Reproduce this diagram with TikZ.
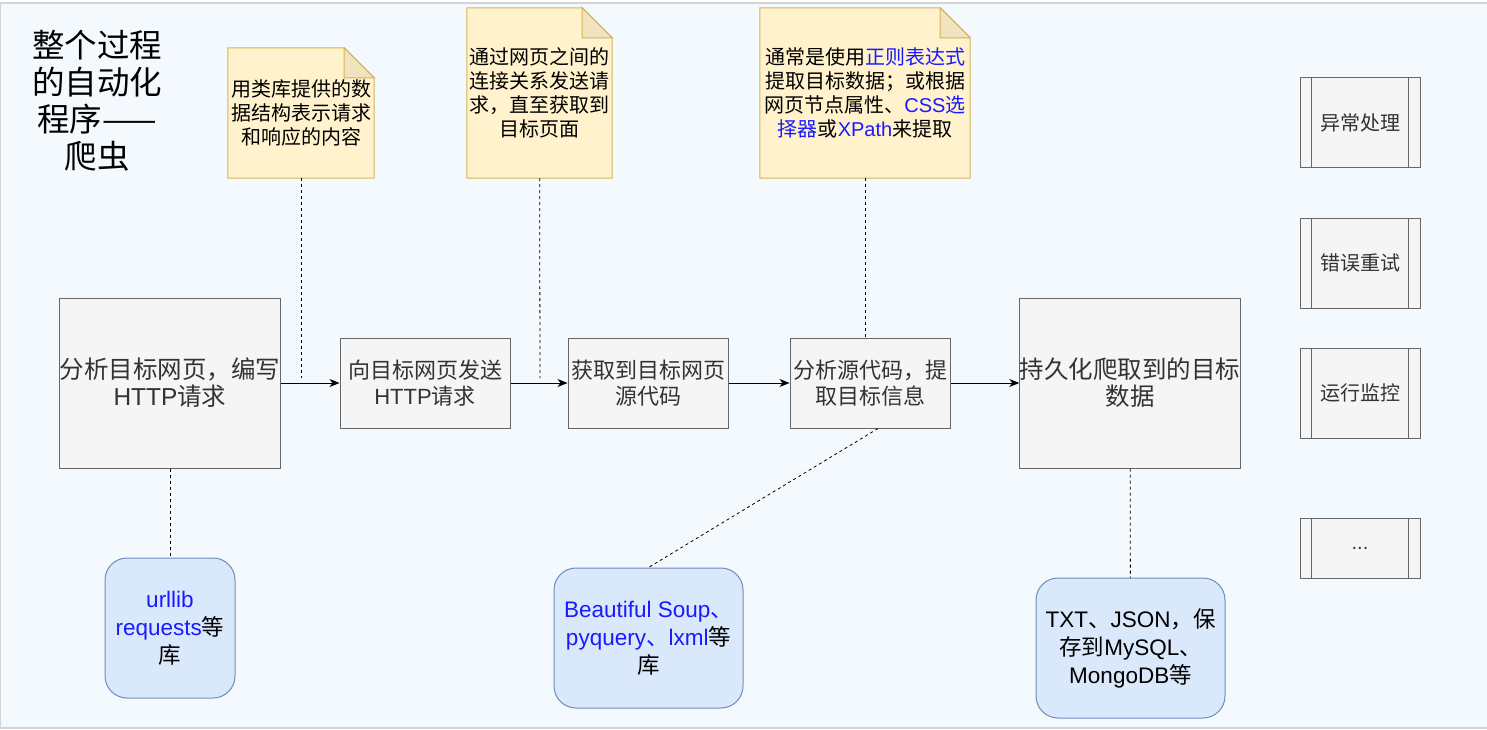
\documentclass[tikz,border=0pt]{standalone}
\usepackage{fontspec}
\setmainfont{Noto Sans CJK SC}
\newfontfamily\lat{Liberation Sans}
\usetikzlibrary{arrows.meta}

\definecolor{pagebg}{HTML}{F4F9FE}
\definecolor{pageline}{HTML}{D4D4D4}
\definecolor{boxfill}{HTML}{F5F5F5}
\definecolor{boxline}{HTML}{666666}
\definecolor{boxtext}{HTML}{333333}
\definecolor{memofill}{HTML}{FFF2CC}
\definecolor{memoline}{HTML}{D6B656}
\definecolor{memofold}{HTML}{F1E3BF}
\definecolor{libfill}{HTML}{DAE8FC}
\definecolor{libline}{HTML}{6C8EBF}
\definecolor{libblue}{HTML}{1A1AFF}

\pgfdeclarelayer{bg}
\pgfdeclarelayer{memobg}
\pgfsetlayers{bg,memobg,main}

\tikzset{
  stepbox/.style={draw=boxline, fill=boxfill, text=boxtext, align=center, inner sep=0pt, line width=1pt},
  bigstep/.style={stepbox, minimum width=220pt, minimum height=170pt, font=\fontsize{24.5}{27}\selectfont},
  smallstep/.style={stepbox, minimum width=#1, minimum height=90pt, font=\fontsize{22}{25.5}\selectfont},
  sidebox/.style={stepbox, minimum width=120pt, minimum height=#1, font=\fontsize{20}{22}\selectfont},
  memo/.style={align=center, inner sep=0pt, minimum width=#1, font=\fontsize{20}{24}\selectfont},
  libbox/.style={draw=libline, fill=libfill, rounded corners=22pt, align=center, inner sep=0pt,
    minimum width=#1, minimum height=140pt, line width=1pt, font=\fontsize{22.5}{28}\selectfont},
  link/.style={dashed, dash pattern=on 3pt off 3pt, line width=0.8pt},
  flow/.style={-{Stealth[length=10pt,width=8pt,inset=3pt]}, line width=1pt},
}

\begin{document}
\begin{tikzpicture}[x=1pt, y=-1pt]
\useasboundingbox (0,0) rectangle (1487,730);

\begin{pgfonlayer}{bg}
\fill[pagebg] (0,3) rectangle (1487,728);
\draw[pageline, line width=1.5pt] (0.7,728) -- (0.7,3) -- (1487,3);
\draw[pageline, line width=1.5pt] (0,728) -- (1487,728);
\end{pgfonlayer}

% title
\node[align=center, font=\fontsize{32.5}{37}\selectfont] (title) at (97,101) {整个过程\\的自动化\\程序——\\爬虫};

% notes
\node[memo=146pt, minimum height=130pt] (memoA) at (301,113) {用类库提供的数\\据结构表示请求\\和响应的内容};
\node[memo=145pt, minimum height=170pt] (memoB) at (539.5,93) {通过网页之间的\\连接关系发送请\\求，直至获取到\\目标页面};
\node[memo=210pt, minimum height=170pt] (memoC) at (865,93) {通常是使用\textcolor{libblue}{正则表达式}\\提取目标数据；或根据\\网页节点属性、\textcolor{libblue}{{\lat CSS}选}\\\textcolor{libblue}{择器}或\textcolor{libblue}{\lat XPath}来提取};

\begin{pgfonlayer}{memobg}
\foreach \n in {memoA,memoB,memoC}{
  \filldraw[fill=memofill, draw=memoline, line width=1pt] (\n.north west) -- ([xshift=-30pt]\n.north east)
    -- ([yshift=-30pt]\n.north east) -- (\n.south east) -- (\n.south west) -- cycle;
  \filldraw[fill=memofold, draw=memoline, line width=1pt] ([xshift=-30pt]\n.north east)
    -- ([xshift=-30pt,yshift=-30pt]\n.north east) -- ([yshift=-30pt]\n.north east) -- cycle;
}
\end{pgfonlayer}

% main flow
\node[bigstep] (stepA) at (170,383) {分析目标网页，编写\\{\lat HTTP}请求};
\node[smallstep=170pt] (stepB) at (425,383) {向目标网页发送\\{\lat HTTP}请求};
\node[smallstep=160pt] (stepC) at (648,383) {获取到目标网页\\源代码};
\node[smallstep=160pt] (stepD) at (870,383) {分析源代码，提\\取目标信息};
\node[bigstep] (stepE) at (1130,383) {持久化爬取到的目标\\数据};

\draw[flow] (stepA) -- (stepB);
\draw[flow] (stepB) -- (stepC);
\draw[flow] (stepC) -- (stepD);
\draw[flow] (stepD) -- (stepE);

% libraries
\node[libbox=130pt] (libA) at (170,628) {\textcolor{libblue}{\lat urllib}\\\textcolor{libblue}{\lat requests}等\\库};
\node[libbox=189pt] (libB) at (648.5,638) {\textcolor{libblue}{\lat Beautiful Soup}\textcolor{libblue}{、}\\\textcolor{libblue}{{\lat pyquery}、{\lat lxml}}等\\库};
\node[libbox=189pt] (libC) at (1130.5,648) {{\lat TXT}、{\lat JSON}，保\\存到{\lat MySQL}、\\{\lat MongoDB}等};

% dashed links
\coordinate (tapA) at (301,378);
\coordinate (tapB) at (540,378);
\draw[link] (memoA) -- (tapA);
\draw[link] (memoB) -- (tapB);
\draw[link] (memoC.south) -- (memoC.south |- stepD.north);
\draw[link] (stepA) -- (libA);
\draw[link] ([xshift=8pt]stepD.south) -- (libB.north);
\draw[link] (stepE) -- (libC);

% side tasks
\node[sidebox=90pt] (sideA) at (1360,123) {异常处理};
\node[sidebox=90pt] (sideB) at (1360,263) {错误重试};
\node[sidebox=90pt] (sideC) at (1360,393) {运行监控};
\node[sidebox=60pt] (sideD) at (1360,548) {{\lat ...}};
\foreach \n in {sideA,sideB,sideC,sideD}{
  \draw[boxline, line width=1pt] ([xshift=12pt]\n.north west) -- ([xshift=12pt]\n.south west);
  \draw[boxline, line width=1pt] ([xshift=-12pt]\n.north east) -- ([xshift=-12pt]\n.south east);
}

\end{tikzpicture}
\end{document}
